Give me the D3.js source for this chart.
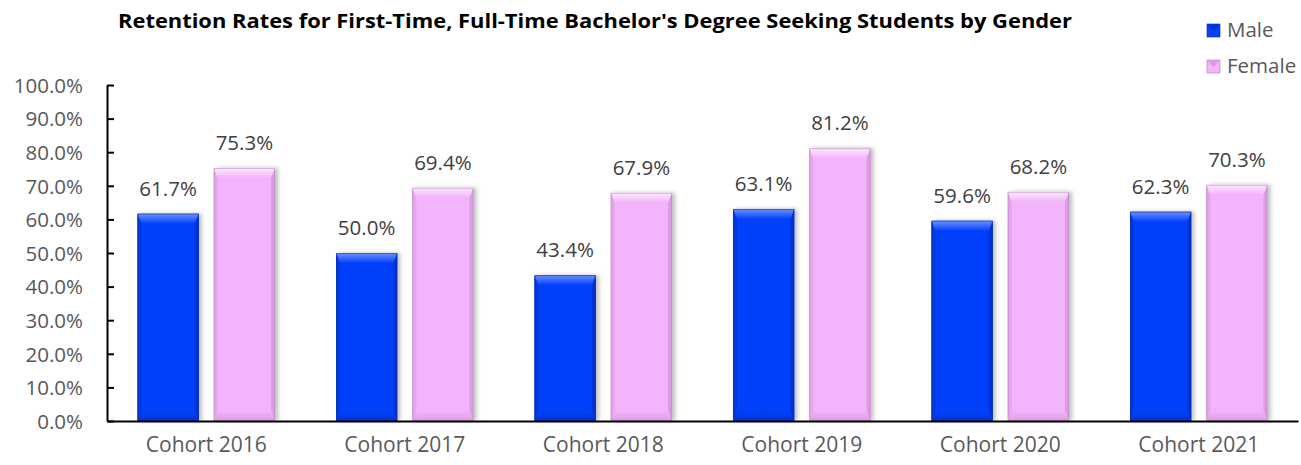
<!DOCTYPE html>
<html>
<head>
<meta charset="utf-8">
<script src="https://cdn.jsdelivr.net/npm/d3@7"></script>
<style>
    body {margin: 0; background: #fff;}
    #chart text {font-family: "Open Sans", "Noto Sans", sans-serif;}
    .y-axis text, .legend text {fill: #595959; font-size: 20.5px;}
    .x-axis text {fill: #595959; font-size: 21px;}
    .label {fill: #404040; font-size: 20.5px;}
    .title {font-weight: bold; font-size: 20px; fill: #000;}
</style>
</head>
<body>
<div id="chart"></div>
<script>

    let cohorts = ["Cohort 2016", "Cohort 2017", "Cohort 2018", "Cohort 2019", "Cohort 2020", "Cohort 2021"];
    let genders = ["Male", "Female"];
    let male = [0.617, 0.500, 0.434, 0.631, 0.596, 0.623];
    let female = [0.753, 0.694, 0.679, 0.812, 0.682, 0.703];
    let yTicks = [0, 0.1, 0.2, 0.3, 0.4, 0.5, 0.6, 0.7, 0.8, 0.9, 1.0];

    let colors = {
        Male: {base: "#0341fb", light: "#6f92ff", dark: "#0233d0", side: "#0238e0", stroke: "#0a2a9a"},
        Female: {base: "#f3b4fb", light: "#fde9ff", dark: "#dc9ce4", side: "#e6a6ee", stroke: "#a985ad"}
    };

    let width = 1301, height = 465;
    let margin = {top: 85, right: 3, bottom: 44, left: 107};

    let data = cohorts.map(function(c, i) {
        return {cohort: c, values: [{key: "Male", value: male[i]}, {key: "Female", value: female[i]}]};
    });

    let x0 = d3.scaleBand()
        .domain(cohorts)
        .range([margin.left, width - margin.right])
        .padding(0);

    let x1 = d3.scaleBand()
        .domain(genders)
        .range([0, x0.bandwidth()])
        .paddingInner(0.197)
        .paddingOuter(0.4);

    let y = d3.scaleLinear()
        .domain([0, 1])
        .range([height - margin.bottom, margin.top]);

    let svg = d3.select("#chart")
        .append("svg")
        .attr("width", width)
        .attr("height", height);

    let defs = svg.append("defs");
    genders.forEach(function(g) {
        let top = defs.append("linearGradient")
            .attr("id", "top-" + g)
            .attr("x1", 0).attr("y1", 0).attr("x2", 0).attr("y2", 1);
        top.append("stop").attr("offset", "0%").attr("stop-color", colors[g].light);
        top.append("stop").attr("offset", "100%").attr("stop-color", colors[g].base);
        let bot = defs.append("linearGradient")
            .attr("id", "bot-" + g)
            .attr("x1", 0).attr("y1", 0).attr("x2", 0).attr("y2", 1);
        bot.append("stop").attr("offset", "0%").attr("stop-color", colors[g].base);
        bot.append("stop").attr("offset", "100%").attr("stop-color", colors[g].dark);
    });
    let shadow = defs.append("filter").attr("id", "shadow")
        .attr("x", "-20%").attr("y", "-10%").attr("width", "140%").attr("height", "120%");
    shadow.append("feDropShadow")
        .attr("dx", 3).attr("dy", 0).attr("stdDeviation", 2)
        .attr("flood-color", "#000").attr("flood-opacity", 0.25);

    // title
    svg.append("text")
        .attr("class", "title")
        .attr("x", 595)
        .attr("y", 28)
        .attr("text-anchor", "middle")
        .attr("textLength", 954)
        .attr("lengthAdjust", "spacingAndGlyphs")
        .text("Retention Rates for First-Time, Full-Time Bachelor's Degree Seeking Students by Gender");

    // bars
    let groups = svg.selectAll(".cohort")
        .data(data)
        .enter().append("g")
        .attr("class", "cohort")
        .attr("transform", function(d) { return "translate(" + x0(d.cohort) + ",0)"; });

    let bars = groups.selectAll(".bar")
        .data(function(d) { return d.values; })
        .enter().append("g")
        .attr("class", "bar");

    let b = 10, s = 4;
    bars.each(function(d) {
        let g = d3.select(this);
        let bx = x1(d.key), bw = x1.bandwidth();
        let by = y(d.value), bh = y(0) - y(d.value);
        let c = colors[d.key];
        g.append("rect")
            .attr("x", bx).attr("y", by).attr("width", bw).attr("height", bh)
            .attr("fill", c.base)
            .attr("filter", "url(#shadow)");
        // left and right bevel sides
        g.append("path")
            .attr("d", d3.line()([[bx, by], [bx + s, by + b], [bx + s, by + bh - b], [bx, by + bh]]))
            .attr("fill", c.side);
        g.append("path")
            .attr("d", d3.line()([[bx + bw, by], [bx + bw - s, by + b], [bx + bw - s, by + bh - b], [bx + bw, by + bh]]))
            .attr("fill", c.dark);
        // top bevel
        g.append("path")
            .attr("d", d3.line()([[bx, by], [bx + bw, by], [bx + bw - s, by + b], [bx + s, by + b]]))
            .attr("fill", "url(#top-" + d.key + ")");
        // bottom bevel
        g.append("path")
            .attr("d", d3.line()([[bx, by + bh], [bx + bw, by + bh], [bx + bw - s, by + bh - b], [bx + s, by + bh - b]]))
            .attr("fill", "url(#bot-" + d.key + ")");
        g.append("rect")
            .attr("x", bx + 0.5).attr("y", by + 0.5).attr("width", bw - 1).attr("height", bh - 1)
            .attr("fill", "none")
            .attr("stroke", c.stroke)
            .attr("stroke-opacity", 0.5);

        g.append("text")
            .attr("class", "label")
            .attr("x", bx + bw / 2)
            .attr("y", by - 18)
            .attr("text-anchor", "middle")
            .text(d3.format(".1%")(d.value));
    });

    // y axis
    let yAxis = d3.axisLeft(y)
        .tickValues(yTicks)
        .tickFormat(d3.format(".1%"))
        .tickSizeInner(-7)
        .tickSizeOuter(0)
        .tickPadding(24);

    let yg = svg.append("g")
        .attr("class", "y-axis")
        .attr("transform", "translate(" + margin.left + ",0)")
        .call(yAxis);
    yg.select(".domain").attr("stroke", "#000").attr("stroke-width", 2);
    yg.selectAll(".tick line").attr("stroke", "#000").attr("stroke-width", 2);
    yg.selectAll(".tick text").attr("dy", "0.36em");

    // x axis
    let xAxis = d3.axisBottom(x0)
        .tickSize(0)
        .tickPadding(16);

    let xg = svg.append("g")
        .attr("class", "x-axis")
        .attr("transform", "translate(0," + y(0) + ")")
        .call(xAxis);
    xg.select(".domain").attr("stroke", "#000").attr("stroke-width", 2);

    // legend
    let legend = svg.append("g")
        .attr("class", "legend")
        .attr("transform", "translate(1207,24)");

    let items = legend.selectAll(".item")
        .data(genders)
        .enter().append("g")
        .attr("class", "item")
        .attr("transform", function(d, i) { return "translate(0," + (i * 36) + ")"; });

    items.append("rect")
        .attr("width", 13).attr("height", 13)
        .attr("fill", function(d) { return colors[d].base; })
        .attr("stroke", function(d) { return colors[d].stroke; })
        .attr("stroke-opacity", 0.6);
    items.append("path")
        .attr("d", d3.line()([[0, 0], [13, 0], [6.5, 7]]))
        .attr("fill", function(d) { return colors[d].dark; });
    items.append("text")
        .attr("x", 20)
        .attr("y", 13)
        .text(function(d) { return d; });

</script>
</body>
</html>
